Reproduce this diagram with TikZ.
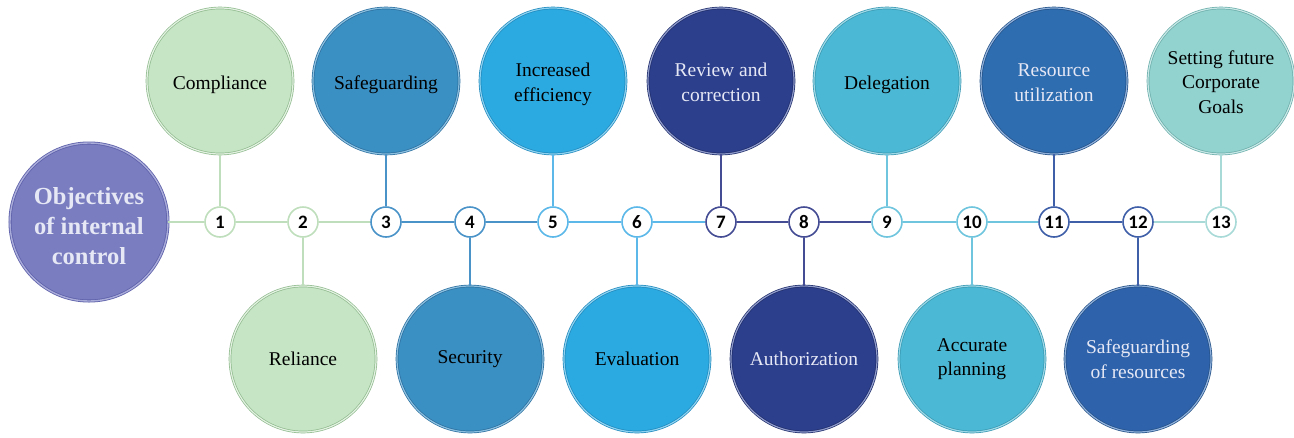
\documentclass[tikz,border=0pt]{standalone}
\usepackage{fontspec}
\setmainfont{Liberation Serif}
\newfontfamily\numfont{Carlito}
\definecolor{objF}{HTML}{7A7DC0}\definecolor{objD}{HTML}{5E61AA}\definecolor{objL}{HTML}{A9ABD9}
\definecolor{grnF}{HTML}{C6E5C5}\definecolor{grnD}{HTML}{8FBA8D}\definecolor{grnL}{HTML}{E2F1E1}
\definecolor{sbF}{HTML}{3A8FC3}\definecolor{sbD}{HTML}{2A6E9E}\definecolor{sbL}{HTML}{8CC0E0}
\definecolor{lbF}{HTML}{2BAAE2}\definecolor{lbD}{HTML}{1E88BC}\definecolor{lbL}{HTML}{8DD2F0}
\definecolor{nvF}{HTML}{2C3F8D}\definecolor{nvD}{HTML}{1E2C69}\definecolor{nvL}{HTML}{8F9BCB}
\definecolor{cyF}{HTML}{4BB9D5}\definecolor{cyD}{HTML}{3797B1}\definecolor{cyL}{HTML}{9ED9E8}
\definecolor{rbF}{HTML}{2E6DB0}\definecolor{rbD}{HTML}{224F85}\definecolor{rbL}{HTML}{8FB0DA}
\definecolor{srF}{HTML}{2E63AC}
\definecolor{tlF}{HTML}{92D2CF}\definecolor{tlD}{HTML}{6AADAA}\definecolor{tlL}{HTML}{C7E8E6}
\definecolor{grnN}{HTML}{BFDFBC}\definecolor{sbN}{HTML}{4A93C8}\definecolor{lbN}{HTML}{5BB8E8}
\definecolor{nvN}{HTML}{444C93}\definecolor{cyN}{HTML}{6EC5DD}\definecolor{rbN}{HTML}{3F5FA8}
\definecolor{tlN}{HTML}{A8DAD8}\definecolor{lightT}{HTML}{E6E8F5}
\newcommand{\lowertxt}[2]{\raisebox{-#1}[\height][\depth]{\begin{tabular}{@{}c@{}}#2\end{tabular}}}
\tikzset{
  big/.style={circle, minimum size=146pt, inner sep=0pt, align=center,
    font=\fontsize{19.5}{24.5}\selectfont, line width=0.7pt, double distance=1.2pt},
  mainc/.style={circle, minimum size=158pt, inner sep=0pt, align=center,
    font=\bfseries\fontsize{24.5}{30}\selectfont, line width=0.8pt, double distance=1.4pt,
    fill=objF, draw=objD, double=objL, text=lightT},
  num/.style={circle, minimum size=30pt, inner sep=0pt, fill=white, line width=1.6pt,
    font=\numfont\bfseries\fontsize{19}{19}\selectfont},
  seg/.style={line width=2pt},
  grn/.style={fill=grnF, draw=grnD, double=grnL},
  sbl/.style={fill=sbF, draw=sbD, double=sbL},
  lbl/.style={fill=lbF, draw=lbD, double=lbL},
  nvy/.style={fill=nvF, draw=nvD, double=nvL, text=lightT},
  cya/.style={fill=cyF, draw=cyD, double=cyL},
  rbl/.style={fill=rbF, draw=rbD, double=rbL, text=lightT},
  srb/.style={fill=srF, draw=rbD, double=rbL, text=lightT},
  tel/.style={fill=tlF, draw=tlD, double=tlL},
}
\begin{document}
\begin{tikzpicture}[x=1pt,y=-1pt]
\useasboundingbox (0,0) rectangle (1294,437);
% main
\node[mainc] (main) at (89,222) {\lowertxt{6pt}{Objectives\\of internal\\control}};
% number circles
\node[num, draw=grnN] (n1) at (220,222) {1};
\node[num, draw=grnN] (n2) at (303,222) {2};
\node[num, draw=sbN] (n3) at (386,222) {3};
\node[num, draw=sbN] (n4) at (470,222) {4};
\node[num, draw=lbN] (n5) at (553,222) {5};
\node[num, draw=lbN] (n6) at (637,222) {6};
\node[num, draw=nvN] (n7) at (721,222) {7};
\node[num, draw=nvN] (n8) at (804,222) {8};
\node[num, draw=cyN] (n9) at (887,222) {9};
\node[num, draw=cyN] (n10) at (972,222) {10};
\node[num, draw=rbN] (n11) at (1054,222) {11};
\node[num, draw=rbN] (n12) at (1138,222) {12};
\node[num, draw=tlN] (n13) at (1221,222) {13};
% big circles
\node[big, grn] (c1) at (220,81) {\lowertxt{4pt}{Compliance}};
\node[big, grn] (c2) at (303,359) {Reliance};
\node[big, sbl] (c3) at (386,81) {\lowertxt{4pt}{Safeguarding}};
\node[big, sbl] (c4) at (470,359) {Security};
\node[big, lbl] (c5) at (553,81) {\lowertxt{3pt}{Increased\\efficiency}};
\node[big, lbl] (c6) at (637,359) {Evaluation};
\node[big, nvy] (c7) at (721,81) {\lowertxt{3pt}{Review and\\correction}};
\node[big, nvy] (c8) at (804,359) {Authorization};
\node[big, cya] (c9) at (887,81) {\lowertxt{4pt}{Delegation}};
\node[big, cya] (c10) at (972,359) {Accurate\\planning};
\node[big, rbl] (c11) at (1054,81) {\lowertxt{3pt}{Resource\\utilization}};
\node[big, srb] (c12) at (1138,359) {Safeguarding\\of resources};
\node[big, tel] (c13) at (1221,81) {\lowertxt{3pt}{Setting future\\Corporate\\Goals}};
% horizontal connectors
\draw[seg, grnN] (main) -- (n1);
\draw[seg, grnN] (n1) -- (n2);
\draw[seg, grnN] (n2) -- (n3);
\draw[seg, sbN] (n3) -- (n4);
\draw[seg, sbN] (n4) -- (n5);
\draw[seg, lbN] (n5) -- (n6);
\draw[seg, lbN] (n6) -- (n7);
\draw[seg, nvN] (n7) -- (n8);
\draw[seg, nvN] (n8) -- (n9);
\draw[seg, cyN] (n9) -- (n10);
\draw[seg, cyN] (n10) -- (n11);
\draw[seg, rbN] (n11) -- (n12);
\draw[seg, tlN] (n12) -- (n13);
% vertical connectors
\draw[seg, grnN] (n1) -- (c1);
\draw[seg, grnN] (n2) -- (c2);
\draw[seg, sbN] (n3) -- (c3);
\draw[seg, sbN] (n4) -- (c4);
\draw[seg, lbN] (n5) -- (c5);
\draw[seg, lbN] (n6) -- (c6);
\draw[seg, nvN] (n7) -- (c7);
\draw[seg, nvN] (n8) -- (c8);
\draw[seg, cyN] (n9) -- (c9);
\draw[seg, cyN] (n10) -- (c10);
\draw[seg, rbN] (n11) -- (c11);
\draw[seg, rbN] (n12) -- (c12);
\draw[seg, tlN] (n13) -- (c13);
\end{tikzpicture}
\end{document}
